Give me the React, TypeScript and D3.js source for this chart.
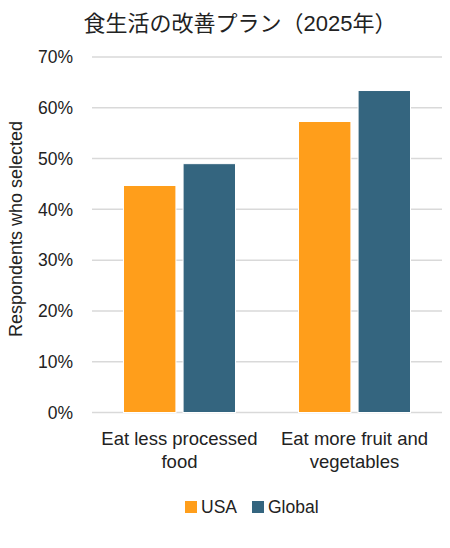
import React from 'react';
import * as d3 from 'd3';

const categories = [['Eat less processed', 'food'], ['Eat more fruit and', 'vegetables']];
const seriesNames = ['USA', 'Global'];
const usaValues = [0.447, 0.573];
const globalValues = [0.49, 0.634];
const yTicks = [0, 0.1, 0.2, 0.3, 0.4, 0.5, 0.6, 0.7];
const colors = ['#FF9E1B', '#34657F'];

const W = 450;
const H = 548;
const margin = { top: 57, right: 8, bottom: 135, left: 92 };
const font = '"Liberation Sans", Arial, "Noto Sans CJK JP", sans-serif';

export default function App() {
  const x0 = d3.scaleBand<number>()
    .domain(categories.map((_, i) => i))
    .range([margin.left, W - margin.right])
    .paddingInner(0.36)
    .paddingOuter(0.18);
  const x1 = d3.scaleBand<number>()
    .domain([0, 1])
    .range([0, x0.bandwidth()])
    .paddingInner(0.12);
  const y = d3.scaleLinear().domain([0, 0.7]).range([H - margin.bottom - 0.5, margin.top]);
  const fmt = d3.format('.0%');
  const series = [usaValues, globalValues];

  return (
    <svg width={W} height={H} style={{ position: 'absolute', left: 0, top: 0, background: '#fff' }} fontFamily={font}>
      <text x={240} y={31} textAnchor="middle" fontSize={22} fill="#222">食生活の改善プラン（2025年）</text>

      {yTicks.map(t => (
        <g key={t}>
          <line x1={margin.left} x2={W - margin.right} y1={y(t)} y2={y(t)} stroke="#d9d9d9" strokeWidth={1.5} />
          <text x={73} y={y(t)} dy="0.36em" textAnchor="end" fontSize={17.5} fill="#222">{fmt(t)}</text>
        </g>
      ))}

      {categories.map((c, i) => (
        <g key={i}>
          {series.map((vals, s) => (
            <rect key={s}
              x={(x0(i) as number) + (x1(s) as number)}
              y={y(vals[i])}
              width={x1.bandwidth()}
              height={y(0) - y(vals[i])}
              fill={colors[s]}
              stroke="#fff"
              strokeWidth={1}
            />
          ))}
          {c.map((line, k) => (
            <text key={k} x={(x0(i) as number) + x0.bandwidth() / 2} y={445 + k * 23}
              textAnchor="middle" fontSize={18.5} fill="#222">{line}</text>
          ))}
        </g>
      ))}

      <text transform={`translate(22,${(margin.top + H - margin.bottom) / 2 - 6}) rotate(-90)`}
        textAnchor="middle" fontSize={18} fill="#222">Respondents who selected</text>

      <g>
        <rect x={185} y={501} width={12} height={12} fill={colors[0]} />
        <text x={201} y={513} fontSize={17.5} fill="#222">{seriesNames[0]}</text>
        <rect x={252} y={501} width={12} height={12} fill={colors[1]} />
        <text x={268} y={513} fontSize={17.5} fill="#222">{seriesNames[1]}</text>
      </g>
    </svg>
  );
}
